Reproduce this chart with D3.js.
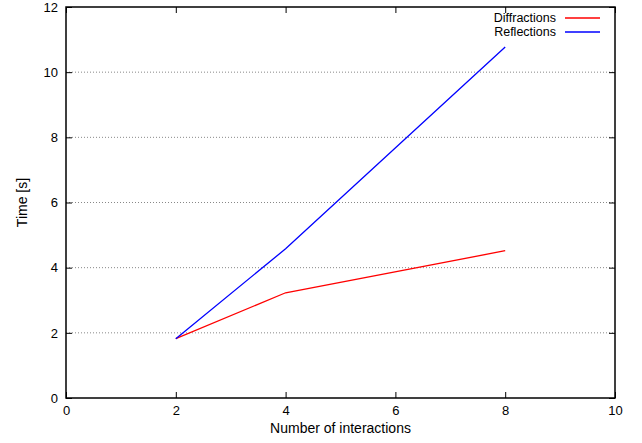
<!DOCTYPE html>
<html>
<head>
<meta charset="utf-8">
<script src="https://cdn.jsdelivr.net/npm/d3@7"></script>
<style>
  body { margin: 0; background: #fff; }
  text { font-family: "Liberation Sans", Arial, sans-serif; font-size: 14px; fill: #000; }
</style>
</head>
<body>
<div id="viz"></div>
<script>
var interactions = [2, 4, 8];
var diffractions = [1.82, 3.23, 4.52];
var reflections = [1.82, 4.58, 10.77];
var xTicks = [0, 2, 4, 6, 8, 10];
var yTicks = [0, 2, 4, 6, 8, 10, 12];

var margin = { top: 7, right: 27, bottom: 45, left: 66 },
  width = 642 - margin.left - margin.right,
  height = 443 - margin.top - margin.bottom;

var svg = d3
  .select("#viz")
  .append("svg")
  .attr("width", 642)
  .attr("height", 443)
  .append("g")
  .attr("transform", "translate(" + margin.left + "," + margin.top + ")");

var x = d3.scaleLinear().domain([0, 10]).range([0, width]);
var y = d3.scaleLinear().domain([0, 12]).range([height, 0]);

// grid
svg
  .selectAll(".grid")
  .data(yTicks.filter((d) => d > 0 && d < 12))
  .enter()
  .append("line")
  .attr("x1", 0)
  .attr("x2", width)
  .attr("y1", (d) => y(d))
  .attr("y2", (d) => y(d))
  .attr("stroke", "#888")
  .attr("stroke-width", 1)
  .attr("stroke-dasharray", "1,2");

// axes with inward ticks
var xAxis = d3.axisBottom(x).tickValues(xTicks).tickSizeInner(-6).tickSizeOuter(0).tickPadding(8);
var yAxis = d3.axisLeft(y).tickValues(yTicks).tickSizeInner(-6).tickSizeOuter(0).tickPadding(8);
var xTop = d3.axisTop(x).tickValues(xTicks).tickSizeInner(-6).tickSizeOuter(0).tickFormat("");
var yRight = d3.axisRight(y).tickValues(yTicks).tickSizeInner(-6).tickSizeOuter(0).tickFormat("");

svg.append("g").attr("class", "x axis").attr("transform", "translate(0," + height + ")").call(xAxis);
svg.append("g").attr("class", "y axis").call(yAxis);
svg.append("g").call(xTop);
svg.append("g").attr("transform", "translate(" + width + ",0)").call(yRight);

svg.selectAll(".domain").remove();
svg.selectAll(".tick line").attr("stroke", "#000");
svg.selectAll(".tick text").style("font-size", "13px").style("font-family", "Liberation Sans, Arial, sans-serif");

// frame
svg
  .append("rect")
  .attr("width", width)
  .attr("height", height)
  .attr("fill", "none")
  .attr("stroke", "#000")
  .attr("stroke-width", 1.5);

var line = d3
  .line()
  .x((d) => x(d[0]))
  .y((d) => y(d[1]));

var series = [
  { name: "Diffractions", color: "#ff0000", values: diffractions },
  { name: "Reflections", color: "#0000ff", values: reflections },
];

series.forEach((s) => {
  svg
    .append("path")
    .datum(interactions.map((v, i) => [v, s.values[i]]))
    .attr("fill", "none")
    .attr("stroke", s.color)
    .attr("stroke-width", 1.3)
    .attr("d", line);
});

// legend
var legend = svg
  .selectAll(".legend")
  .data(series)
  .enter()
  .append("g")
  .attr("transform", (d, i) => "translate(" + (width - 50) + "," + (11 + i * 14) + ")");

legend
  .append("text")
  .attr("x", -9)
  .attr("dy", "0.33em")
  .style("text-anchor", "end")
  .style("font-size", "12.5px")
  .text((d) => d.name);

legend
  .append("line")
  .attr("x1", 0)
  .attr("x2", 35)
  .attr("stroke", (d) => d.color)
  .attr("stroke-width", 1.3);

// axis labels
svg
  .append("text")
  .attr("transform", "rotate(-90)")
  .attr("x", 0 - height / 2)
  .attr("y", -39)
  .style("text-anchor", "middle")
  .text("Time [s]");

svg
  .append("text")
  .attr("x", width / 2)
  .attr("y", height + 35)
  .style("text-anchor", "middle")
  .text("Number of interactions");
</script>
</body>
</html>
